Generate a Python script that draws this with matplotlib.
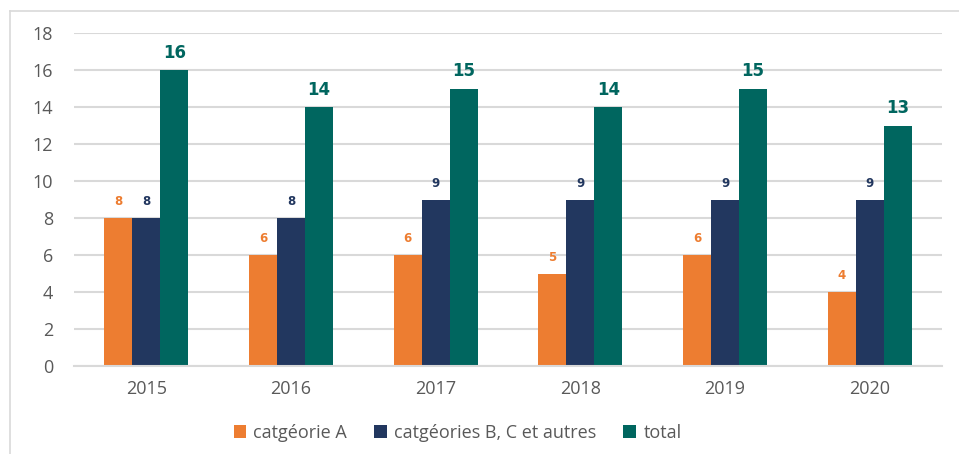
import matplotlib.pyplot as plt
import numpy as np
from matplotlib.lines import Line2D

years = ['2015', '2016', '2017', '2018', '2019', '2020']
cat_a = [8, 6, 6, 5, 6, 4]
cat_bc = [8, 8, 9, 9, 9, 9]
total = [16, 14, 15, 14, 15, 13]

c_a = '#ED7D31'
c_bc = '#22375F'
c_tot = '#00665F'

plt.rcParams['font.family'] = ['Open Sans', 'DejaVu Sans']

fig = plt.figure(figsize=(9.59, 4.54), dpi=100)
ax = fig.add_axes([0.0772, 0.1938, 0.9051, 0.7335])

x = np.arange(len(years))
w = 0.193
b1 = ax.bar(x - w, cat_a, w, color=c_a, label='catgéorie A', zorder=2)
b2 = ax.bar(x, cat_bc, w, color=c_bc, label='catgéories B, C et autres', zorder=2)
b3 = ax.bar(x + w, total, w, color=c_tot, label='total', zorder=2)

ax.bar_label(b1, padding=7, color=c_a, fontsize=8.5, fontweight='bold', family='DejaVu Sans')
ax.bar_label(b2, padding=7, color=c_bc, fontsize=8.5, fontweight='bold', family='DejaVu Sans')
ax.bar_label(b3, padding=6, color=c_tot, fontsize=12, fontweight='bold', family='DejaVu Sans')

ax.set_xlim(-0.5, 5.5)
ax.set_ylim(0, 18)
ax.set_yticks(range(0, 19, 2))
ax.set_xticks(x)
ax.set_xticklabels(years)
ax.tick_params(length=0, labelsize=13, labelcolor='#595959')
ax.tick_params(axis='x', pad=10)
ax.tick_params(axis='y', pad=15)
ax.grid(axis='y', color='#D9D9D9', linewidth=1.5, zorder=0)
for s in ['top', 'right', 'left']:
    ax.spines[s].set_visible(False)
ax.spines['bottom'].set_color('#D9D9D9')
ax.spines['bottom'].set_linewidth(1.5)

leg = fig.legend(loc='center', bbox_to_anchor=(0.477, 0.047), ncol=3, frameon=False,
                 fontsize=13, handlelength=0.7, handleheight=0.7, handletextpad=0.4,
                 columnspacing=1.5)
for t in leg.get_texts():
    t.set_color('#595959')

# light frame around the chart
fig.add_artist(Line2D([10 / 959, 1], [1 - 11 / 454, 1 - 11 / 454], color='#D9D9D9', lw=1.2))
fig.add_artist(Line2D([10 / 959, 10 / 959], [0, 1 - 11 / 454], color='#D9D9D9', lw=1.2))

plt.savefig('out.png')
